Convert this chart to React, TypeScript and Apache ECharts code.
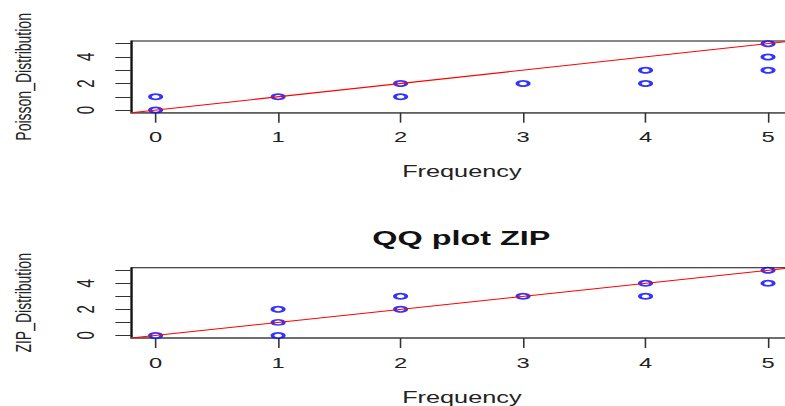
import React, { useEffect, useRef } from "react";
import * as echarts from "echarts";

// Data
const poissonFreq = [0, 0, 1, 2, 2, 3, 4, 4, 5, 5, 5];
const poissonDist = [0, 1, 1, 2, 1, 2, 3, 2, 5, 4, 3];
const zipFreq = [0, 1, 1, 1, 2, 2, 3, 4, 4, 5, 5];
const zipDist = [0, 2, 1, 0, 3, 2, 3, 4, 3, 5, 4];
const xTicks = [0, 1, 2, 3, 4, 5];
const yTicks = [0, 1, 2, 3, 4, 5];
const yTickLabels = [0, 2, 4];
const axisRange = [-0.2, 5.2];
const refLineX = [-0.2, 5.2];

const S = 1.58; // horizontal stretch of the reference
const FONT = "Liberation Sans, Arial, sans-serif";

export default function App() {
  const ref = useRef<HTMLDivElement>(null);
  useEffect(() => {
    if (!ref.current) return;
    const chart = echarts.init(ref.current, null, { renderer: "svg" });
    const pts = (xs: number[], ys: number[]) => xs.map((x, i) => [x, ys[i]]);
    const line = refLineX.map((v) => [v, v]);
    const gridLeft = 81.9;
    const gridWidth = 419.7;
    const mkX = (gridIndex: number) => ({
      type: "value",
      gridIndex,
      min: axisRange[0],
      max: axisRange[1],
      name: "Frequency",
      nameLocation: "middle",
      nameGap: 51,
      nameTextStyle: { fontFamily: FONT, fontSize: 16, color: "#222" },
      axisLine: { show: true, onZero: false, lineStyle: { color: "#666", width: 1.6 } },
      axisTick: { show: true, customValues: xTicks, length: 10, lineStyle: { color: "#333", width: 1 } },
      axisLabel: { customValues: xTicks, margin: 17, fontFamily: FONT, fontSize: 15, color: "#222" },
      splitLine: { show: false },
    });
    const mkY = (gridIndex: number, name: string) => ({
      type: "value",
      gridIndex,
      min: axisRange[0],
      max: axisRange[1],
      name,
      nameLocation: "middle",
      nameRotate: 90,
      nameGap: 61,
      nameTextStyle: { fontFamily: FONT, fontSize: 14, color: "#222" },
      axisLine: { show: true, onZero: false, lineStyle: { color: "#111", width: 1 } },
      axisTick: { show: true, customValues: yTicks, length: 10, lineStyle: { color: "#333", width: 1 } },
      axisLabel: { customValues: yTickLabels, rotate: 90, margin: 21, fontFamily: FONT, fontSize: 15, color: "#222" },
      splitLine: { show: false },
    });
    const scatter = (i: number, data: number[][]) => ({
      type: "scatter",
      xAxisIndex: i,
      yAxisIndex: i,
      data,
      symbol: "emptyCircle",
      symbolSize: [7.2, 5.2],
      itemStyle: { color: "#0000ff", borderColor: "#0000ff", borderWidth: 0.8 },
      z: 2,
    });
    const refl = (i: number) => ({
      type: "line",
      xAxisIndex: i,
      yAxisIndex: i,
      data: line,
      symbol: "none",
      clip: true,
      lineStyle: { color: "#ff0000", width: 1 },
      z: 3,
    });
    chart.setOption({
      animation: false,
      backgroundColor: "#ffffff",
      title: {
        text: "QQ plot ZIP",
        left: "center",
        top: 222,
        textStyle: { fontFamily: FONT, fontSize: 20.5, fontWeight: "bold", color: "#111" },
      },
      grid: [
        { left: gridLeft, width: gridWidth, top: 41, height: 71.7, show: true, borderColor: "#111", borderWidth: 1, backgroundColor: "transparent" },
        { left: gridLeft, width: gridWidth, top: 267.7, height: 72, show: true, borderColor: "#111", borderWidth: 1, backgroundColor: "transparent" },
      ],
      xAxis: [mkX(0), mkX(1)],
      yAxis: [mkY(0, "Poisson_Distribution"), mkY(1, "ZIP_Distribution")],
      series: [
        scatter(0, pts(poissonFreq, poissonDist)),
        refl(0),
        scatter(1, pts(zipFreq, zipDist)),
        refl(1),
      ],
    });
    return () => chart.dispose();
  }, []);
  return (
    <div style={{ position: "absolute", left: 0, top: 0, width: 785, height: 406, overflow: "hidden", background: "#fff" }}>
      <div
        ref={ref}
        style={{ width: 583.6, height: 406, transform: `scaleX(${S})`, transformOrigin: "0 0" }}
      />
    </div>
  );
}
